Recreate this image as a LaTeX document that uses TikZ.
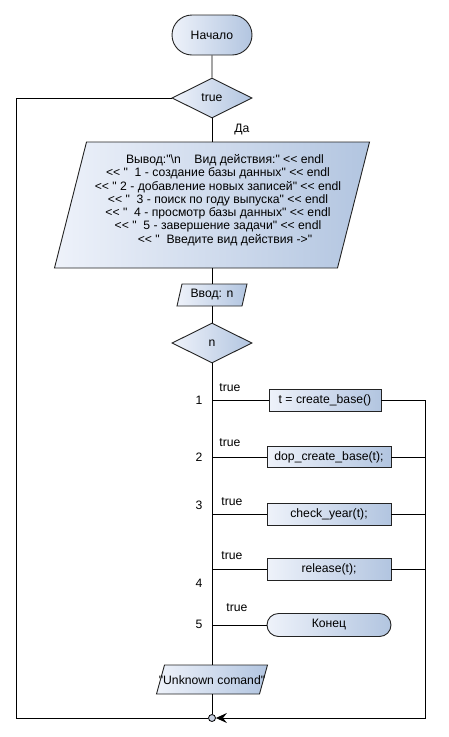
\documentclass[tikz,border=0pt]{standalone}
\usepackage{fontspec}
\setmainfont{Liberation Sans}[Ligatures=TeXOff]
\usetikzlibrary{shapes.geometric,shapes.misc,arrows.meta}
\definecolor{fillL}{RGB}{238,242,250}
\definecolor{fillR}{RGB}{178,197,224}
\definecolor{edge}{RGB}{35,35,35}
\definecolor{juncfill}{RGB}{200,208,225}
\newcommand\myparallelogram[6]{% name, cx, cy, halfwidth, halfheight, slant
  \path[shp] ({#2-#4+#6/2},{#3-#5}) -- ({#2+#4+#6/2},{#3-#5}) -- ({#2+#4-#6/2},{#3+#5}) -- ({#2-#4-#6/2},{#3+#5}) -- cycle;
  \node[hid, minimum width={2*#4}, minimum height={2*#5}] (#1) at (#2,#3) {};
}
\begin{document}
\begin{tikzpicture}[x=1pt,y=-1pt, font=\fontsize{12.2}{13.3}\selectfont,
  line/.style={line width=0.9pt, draw=black},
  shp/.style={draw=edge, line width=0.9pt, left color=fillL, right color=fillR},
  term/.style={shp, rounded rectangle, minimum width=80pt, minimum height=40pt, inner sep=0pt},
  dec/.style={shp, diamond, aspect=2, minimum width=80pt, minimum height=40pt, inner sep=0pt},
  proc/.style={shp, rectangle, minimum height=22pt, inner sep=0pt},
  lbl/.style={inner sep=0pt},
  hid/.style={rectangle, inner sep=0pt}]
\useasboundingbox (0,0) rectangle (449,737);

% coordinates for free corners
\coordinate (l1) at (16,98);
\coordinate (l2) at (16,718);
\coordinate (r1) at (425,400);
\coordinate (r2) at (425,457);
\coordinate (r3) at (425,514);
\coordinate (r4) at (425,569);
\coordinate (rb) at (425,718);
\coordinate (b1) at (212,400);
\coordinate (b2) at (212,457);
\coordinate (b3) at (212,514);
\coordinate (b4) at (212,569);
\coordinate (b5) at (212,625);

% shapes
\node[term] (start) at (212,35) {Начало};
\node[dec] (loop) at (212,98) {true};
\myparallelogram{out}{212}{205}{141.5}{63}{32}
\node[lbl, align=center] (outtxt) at (218,200) {%
\hspace*{14pt}Вывод:"\textbackslash n\ \ \ \ Вид действия:" << endl\\
<< "\ \ 1 - создание базы данных" << endl\\
<< " 2 - добавление новых записей" << endl\hspace*{10pt}\\
<< "\ \ 3 - поиск по году выпуска" << endl\hspace*{6pt}\\
<< "\ \ 4 - просмотр базы данных" << endl\hspace*{6pt}\\
<< "\ \ 5 - завершение задачи" << endl\\
\hspace*{14pt}<< "\ \ Введите вид действия ->"};
\myparallelogram{inp}{212}{295}{32.5}{11}{5}
\node[lbl] (inptxt) at (212,295) {Ввод: n};
\node[dec] (sw) at (212,343) {n};

\node[proc, minimum width=112pt] (c1) at (325,400) {t = create\_base()};
\node[proc, minimum width=124pt, minimum height=21pt] (c2) at (329,457) {dop\_create\_base(t);};
\node[proc, minimum width=124pt] (c3) at (329,514) {check\_year(t);};
\node[proc, minimum width=124pt] (c4) at (329,569) {release(t);};
\node[shp, rounded rectangle, minimum width=124pt, minimum height=23pt, inner sep=0pt] (fin) at (329,625) {Конец};

\myparallelogram{unk}{212}{679.5}{51.5}{14.5}{8}
\node[lbl] (unktxt) at (212,680) {"Unknown comand"};

\node[circle, draw=black, line width=0.8pt, fill=juncfill, minimum size=7pt, inner sep=0pt] (junc) at (212,718) {};

% labels
\node[lbl] (da) at (242,130) {Да};
\node[lbl] (n1) at (199,400) {1};
\node[lbl] (n2) at (199,457) {2};
\node[lbl] (n3) at (199,505) {3};
\node[lbl] (n4) at (199,583) {4};
\node[lbl] (n5) at (199,624) {5};
\node[lbl] (t1) at (230,388) {true};
\node[lbl] (t2) at (230,443) {true};
\node[lbl] (t3) at (232,502) {true};
\node[lbl] (t4) at (232,556) {true};
\node[lbl] (t5) at (237,608) {true};

% connectors
\draw[line] (start) -- (loop);
\draw[line] (loop) -- (out);
\draw[line] (out) -- (inp);
\draw[line] (inp) -- (sw);
\draw[line] (sw) -- (unk);
\draw[line] (unk) -- (junc);
\draw[line] (loop.west) -- (l1) -- (l2) -- (junc.west);
\draw[line] (b1) -- (c1.west);
\draw[line] (b2) -- (c2.west);
\draw[line] (b3) -- (c3.west);
\draw[line] (b4) -- (c4.west);
\draw[line] (b5) -- (fin.west);
\draw[line] (c1.east) -- (r1);
\draw[line] (c2.east) -- (r2);
\draw[line] (c3.east) -- (r3);
\draw[line] (c4.east) -- (r4);
\draw[line, -{Stealth[length=11pt,width=10pt,inset=4pt]}] (r1) -- (rb) -- (junc.east);
\end{tikzpicture}
\end{document}
